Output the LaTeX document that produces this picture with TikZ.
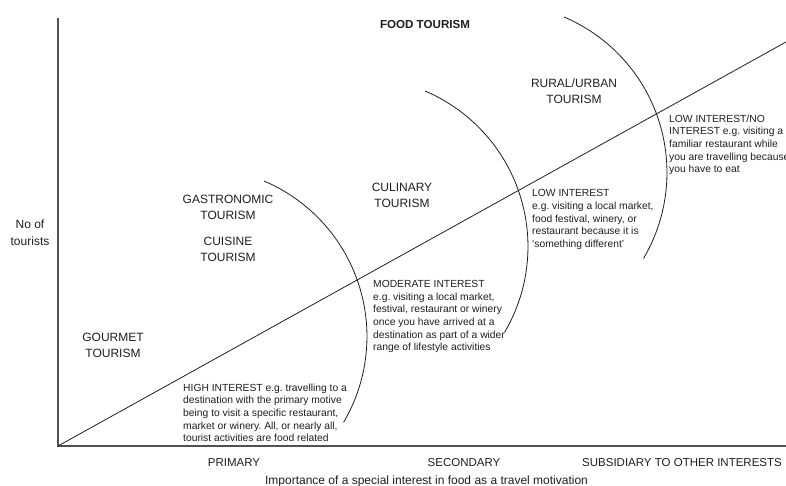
\documentclass[tikz,border=0pt]{standalone}
\usepackage{fontspec}
\setmainfont{Liberation Sans}
\frenchspacing
\definecolor{ink}{RGB}{30,30,30}
\definecolor{axiscol}{RGB}{80,80,80}
\begin{document}
\begin{tikzpicture}[x=1pt,y=1pt,
  lbl/.style={font=\fontsize{12}{16}\selectfont, align=center, inner sep=0pt, text=ink},
  desc/.style={font=\fontsize{10.3}{12.7}\selectfont, align=left, anchor=north west, inner sep=0pt, text=ink},
  tick/.style={font=\fontsize{11.5}{14}\selectfont, anchor=base, inner sep=0pt, text=ink},
  axisline/.style={draw=axiscol, line width=1.2pt},
  curve/.style={draw=ink, line width=0.8pt}]
\useasboundingbox (0,-486) rectangle (786,0);
% axes and diagonal
\coordinate (O) at (58,-446);
\coordinate (T) at (58,-18);
\coordinate (R) at (786,-446);
\coordinate (D) at (786,-42);
\draw[axisline] (T) -- (O) -- (R);
\draw[curve] (O) -- (D);
% arcs
\coordinate (a1) at (264,-181);
\coordinate (a2) at (425,-91);
\coordinate (a3) at (564,-17);
\draw[curve] (a1) arc[start angle=67, end angle=-30.5, radius=169];
\draw[curve] (a2) arc[start angle=67, end angle=-30.5, radius=169];
\draw[curve] (a3) arc[start angle=67, end angle=-30.5, radius=169];
% labels
\node[lbl, font=\bfseries\fontsize{11.6}{14}\selectfont, anchor=base] (food) at (425,-29) {FOOD TOURISM};
\node[lbl, font=\fontsize{12}{17}\selectfont] (ylab) at (30,-232.5) {No of\\tourists};
\node[lbl] (gastro) at (228,-207) {GASTRONOMIC\\TOURISM};
\node[lbl] (cuisine) at (228,-249) {CUISINE\\TOURISM};
\node[lbl] (gourmet) at (113,-345.5) {GOURMET\\TOURISM};
\node[lbl] (culinary) at (402,-195.5) {CULINARY\\TOURISM};
\node[lbl] (rural) at (574,-91.5) {RURAL/URBAN\\TOURISM};
% descriptions
\node[desc] (high) at (183,-383.5) {HIGH INTEREST e.g. travelling to a\\destination with the primary motive\\being to visit a specific restaurant,\\market or winery. All, or nearly all,\\tourist activities are food related};
\node[desc] (moderate) at (373,-280) {MODERATE INTEREST\\e.g. visiting a local market,\\festival, restaurant or winery\\once you have arrived at a\\destination as part of a wider\\range of lifestyle activities};
\node[desc] (low) at (532,-189.5) {LOW INTEREST\\e.g. visiting a local market,\\food festival, winery, or\\restaurant because it is\\‘something different’};
\node[desc] (lowno) at (669,-114.5) {LOW INTEREST/NO\\INTEREST e.g. visiting a\\familiar restaurant while\\you are travelling because\\you have to eat};
% x axis
\node[tick] (primary) at (234,-466) {PRIMARY};
\node[tick] (secondary) at (464,-466) {SECONDARY};
\node[tick] (subsid) at (682,-466) {SUBSIDIARY TO OTHER INTERESTS};
\node[tick, font=\fontsize{12}{14}\selectfont] (xtitle) at (426.5,-484) {Importance of a special interest in food as a travel motivation};
\end{tikzpicture}
\end{document}
